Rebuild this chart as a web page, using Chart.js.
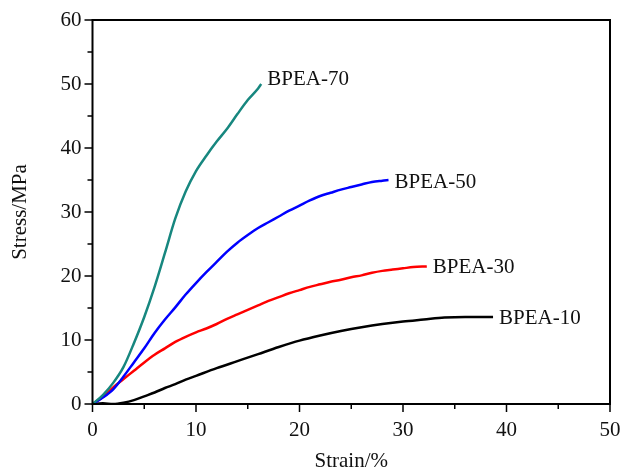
<!DOCTYPE html>
<html>
<head>
<meta charset="utf-8">
<script src="https://cdn.jsdelivr.net/npm/chart.js@4.4.0/dist/chart.umd.min.js"></script>
<style>
  html, body { margin: 0; padding: 0; background: #fff; }
  canvas { display: block; }
</style>
</head>
<body>
<canvas id="stressChart" width="621" height="472"></canvas>
<script>
// tensile curves, strain (%) vs stress (MPa)
const strain10 = [0, 1, 2, 3, 4, 5, 6, 7, 8, 9, 10, 12, 14, 16, 18, 20, 22, 24, 26, 28, 30, 32, 34, 36, 38.7];
const stress10 = [0, 0.1, 0, 0.2, 0.6, 1.2, 1.8, 2.5, 3.1, 3.8, 4.4, 5.6, 6.7, 7.8, 8.9, 9.9, 10.7, 11.4, 12.0, 12.5, 12.9, 13.2, 13.5, 13.6, 13.6];

const strain30 = [0, 1, 2, 3, 4, 5, 6, 7, 8, 9, 10, 11, 12, 13, 14, 15, 16, 17, 18, 19, 20, 21, 22, 23, 24, 25, 26, 27, 28, 29, 30, 31, 32.3];
const stress30 = [0, 1.1, 2.6, 3.9, 5.2, 6.5, 7.7, 8.7, 9.7, 10.5, 11.2, 11.8, 12.5, 13.3, 14.0, 14.7, 15.4, 16.1, 16.7, 17.3, 17.8, 18.3, 18.7, 19.1, 19.4, 19.8, 20.1, 20.5, 20.8, 21.0, 21.2, 21.4, 21.5];

const strain50 = [0, 1, 2, 3, 4, 5, 6, 7, 8, 9, 10, 11, 12, 13, 14, 15, 16, 17, 18, 19, 20, 21, 22, 23, 24, 25, 26, 27, 28, 28.6];
const stress50 = [0, 1.0, 2.3, 4.3, 6.5, 8.7, 11.1, 13.2, 15.1, 17.1, 18.9, 20.6, 22.2, 23.8, 25.2, 26.4, 27.5, 28.4, 29.3, 30.2, 31.0, 31.8, 32.5, 33.0, 33.5, 33.9, 34.3, 34.7, 34.9, 35.0];

const strain70 = [0, 1, 2, 3, 4, 5, 6, 7, 8, 9, 10, 11, 12, 13, 14, 15, 16, 16.3];
const stress70 = [0, 1.4, 3.3, 5.8, 9.5, 13.6, 18.3, 23.6, 29.0, 33.2, 36.4, 38.8, 41.0, 43.0, 45.3, 47.5, 49.3, 50.0];

const strainTicks = [0, 10, 20, 30, 40, 50];
const stressTicks = [0, 10, 20, 30, 40, 50, 60];

const FONT = "'Liberation Serif', 'Times New Roman', serif";

function toPoints(xs, ys) {
  return xs.map((x, i) => ({ x: x, y: ys[i] }));
}

function makeSeries(label, xs, ys, color, labelDy) {
  return {
    label: label,
    data: toPoints(xs, ys),
    borderColor: color,
    backgroundColor: color,
    borderWidth: 2.5,
    pointRadius: 0,
    fill: false,
    cubicInterpolationMode: 'monotone',
    labelDy: labelDy
  };
}

// frame, outward ticks (long at labelled values, short in between) and end labels
const decorations = {
  id: 'decorations',
  afterDatasetsDraw(chart) {
    const ctx = chart.ctx;
    const area = chart.chartArea;
    const xs = chart.scales.x;
    const ys = chart.scales.y;
    ctx.save();
    ctx.strokeStyle = '#000';
    ctx.lineWidth = 2;
    ctx.strokeRect(area.left, area.top, area.right - area.left, area.bottom - area.top);

    ctx.lineWidth = 1.5;
    ctx.beginPath();
    for (let v = 0; v <= 50; v += 5) {
      const px = xs.getPixelForValue(v);
      const len = v % 10 === 0 ? 8 : 5;
      ctx.moveTo(px, area.bottom);
      ctx.lineTo(px, area.bottom + len);
    }
    for (let v = 0; v <= 60; v += 5) {
      const py = ys.getPixelForValue(v);
      const len = v % 10 === 0 ? 8 : 5;
      ctx.moveTo(area.left, py);
      ctx.lineTo(area.left - len, py);
    }
    ctx.stroke();

    ctx.fillStyle = '#111';
    ctx.font = '21px ' + FONT;
    ctx.textAlign = 'left';
    ctx.textBaseline = 'middle';
    chart.data.datasets.forEach((ds, i) => {
      const pts = chart.getDatasetMeta(i).data;
      const last = pts[pts.length - 1];
      ctx.fillText(ds.label, last.x + 6, last.y + ds.labelDy);
    });
    ctx.restore();
  }
};

new Chart(document.getElementById('stressChart').getContext('2d'), {
  type: 'line',
  data: {
    datasets: [
      makeSeries('BPEA-70', strain70, stress70, '#17877f', -5),
      makeSeries('BPEA-50', strain50, stress50, '#0000ff', 2),
      makeSeries('BPEA-30', strain30, stress30, '#ff0000', 1),
      makeSeries('BPEA-10', strain10, stress10, '#000000', 2)
    ]
  },
  options: {
    responsive: false,
    animation: false,
    layout: { padding: { top: 20, right: 11, left: 0, bottom: 0 } },
    plugins: {
      legend: { display: false },
      tooltip: { enabled: false }
    },
    scales: {
      x: {
        type: 'linear',
        min: 0,
        max: 50,
        afterFit: s => {
          s.height = 68;
          s.paddingLeft = 0;
          s.paddingRight = 0;
        },
        grid: { display: false, drawTicks: false },
        border: { display: false },
        ticks: {
          stepSize: 5,
          padding: 14,
          color: '#111',
          font: { family: FONT, size: 21 },
          maxRotation: 0,
          autoSkip: false,
          callback: v => strainTicks.includes(v) ? v : ''
        },
        title: {
          display: true,
          text: 'Strain/%',
          color: '#111',
          font: { family: FONT, size: 21, lineHeight: 1 },
          padding: { top: 0, bottom: 0 }
        }
      },
      y: {
        type: 'linear',
        min: 0,
        max: 60,
        afterFit: s => {
          s.width = 92.5;
          s.paddingTop = 0;
          s.paddingBottom = 0;
        },
        grid: { display: false, drawTicks: false },
        border: { display: false },
        ticks: {
          stepSize: 5,
          padding: 11,
          color: '#111',
          font: { family: FONT, size: 21 },
          autoSkip: false,
          callback: v => stressTicks.includes(v) ? v : ''
        },
        title: {
          display: true,
          text: 'Stress/MPa',
          color: '#111',
          font: { family: FONT, size: 21, lineHeight: 1 },
          padding: { top: 10, bottom: 0 }
        }
      }
    }
  },
  plugins: [decorations]
});
</script>
</body>
</html>
